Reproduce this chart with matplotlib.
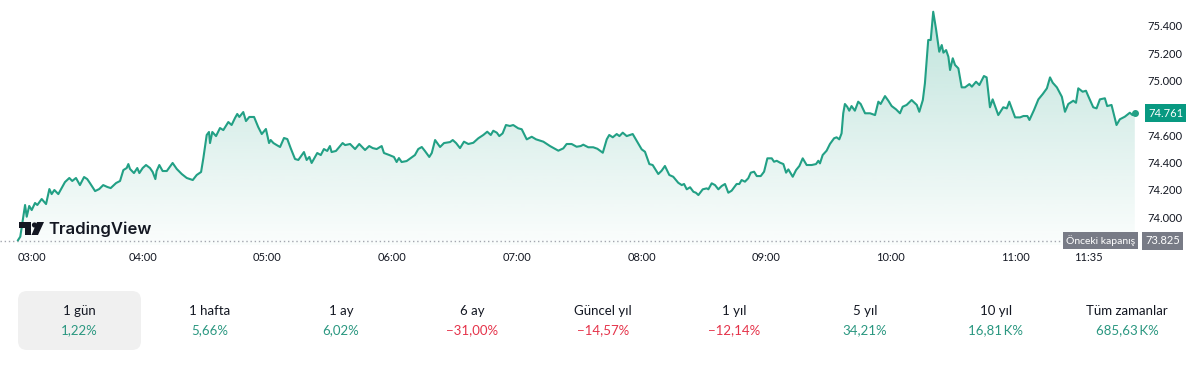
import matplotlib
matplotlib.use('Agg')
import matplotlib.pyplot as plt
import matplotlib.transforms as mtransforms
from matplotlib.patches import Polygon, Circle, FancyBboxPatch
import numpy as np

plt.rcParams['font.family'] = ['Lato', 'DejaVu Sans']

# minutes after 03:00 and price
minutes = [0.0, 1.1, 3.4, 4.2, 5.4, 6.6, 8.2, 9.3, 11.4, 13.5, 15.1, 16.2, 17.5, 19.4, 22.6, 24.7,
           26.1, 27.9, 29.8, 31.8, 33.3, 34.6, 37.1, 39.1, 41.0, 43.0, 44.6, 47.2, 49.1, 50.7, 52.3,
           53.1, 53.9, 55.8, 57.4, 58.4, 60.0, 61.6, 63.5, 64.8, 66.1, 66.7, 68.0, 69.6, 71.6, 74.4,
           76.4, 78.8, 81.2, 84.1, 86.0, 88.1, 89.2, 90.8, 91.9, 92.4, 93.5, 95.3, 97.2, 98.8, 101.2,
           102.8, 104.4, 105.5, 106.5, 108.4, 109.7, 111.3, 113.6, 115.6, 117.3, 119.3, 120.8, 121.6,
           122.9, 124.5, 126.1, 128.0, 129.6, 131.2, 133.3, 134.9, 137.6, 138.9, 140.2, 141.3, 144.0,
           145.7, 147.2, 148.8, 150.1, 150.9, 153.0, 154.6, 156.2, 157.4, 159.8, 162.2, 164.2, 167.0,
           169.0, 170.7, 172.6, 175.0, 176.1, 178.7, 180.9, 182.2, 183.3, 184.6, 187.0, 189.0, 191.0,
           192.6, 194.3, 195.8, 197.9, 199.1, 200.7, 203.1, 205.0, 207.9, 209.2, 210.8, 212.7, 214.6,
           216.7, 219.1, 221.5, 223.9, 225.8, 227.5, 228.7, 230.4, 231.6, 233.2, 234.8, 236.7, 238.3,
           240.7, 242.4, 244.8, 247.2, 249.3, 252.8, 256.0, 260.0, 262.4, 264.0, 266.4, 268.8, 270.8,
           272.0, 274.4, 276.8, 278.8, 281.4, 283.3, 284.5, 286.2, 288.1, 289.4, 291.0, 292.9, 295.8,
           297.7, 300.1, 301.7, 303.8, 305.4, 308.1, 309.7, 311.3, 313.4, 315.3, 317.7, 319.4, 320.5,
           321.8, 323.4, 325.0, 326.2, 327.4, 329.5, 331.4, 332.2, 333.8, 335.4, 337.0, 338.6, 340.2,
           341.8, 343.4, 345.8, 347.1, 348.2, 349.8, 351.4, 352.6, 354.2, 355.5, 357.4, 359.0, 360.6,
           362.7, 363.8, 365.1, 366.7, 368.3, 369.6, 370.7, 372.8, 374.4, 376.0, 377.6, 379.5, 381.9,
           384.0, 385.1, 385.9, 387.2, 389.1, 390.7, 392.7, 393.9, 395.2, 396.3, 397.1, 397.9, 399.0,
           400.0, 401.1, 402.7, 404.3, 405.5, 407.6, 410.0, 412.4, 414.0, 415.1, 417.2, 418.8, 420.4,
           422.5, 424.4, 425.7, 427.6, 430.0, 432.5, 433.7, 435.4, 436.4, 438.0, 439.2, 440.4, 441.7,
           443.3, 444.5, 445.3, 446.6, 447.7, 448.5, 449.8, 450.9, 452.5, 454.1, 455.7, 457.8, 459.0,
           461.0, 462.6, 464.8, 466.1, 467.7, 469.0, 471.7, 474.1, 475.8, 477.0, 479.8, 482.2, 483.8,
           485.7, 486.7, 488.9, 491.0, 493.1, 495.1, 496.6, 497.9, 499.9, 502.3, 503.8, 505.4, 507.8,
           509.1, 510.2, 512.3, 513.9, 515.0, 517.4, 519.0, 520.6, 523.0, 524.1, 526.2, 528.6, 530.2,
           532.6, 535.0, 536.3, 537.4]
prices = [73.830, 73.856, 74.088, 74.002, 74.081, 74.051, 74.103, 74.088, 74.132, 74.095, 74.205,
          74.168, 74.198, 74.168, 74.256, 74.286, 74.264, 74.286, 74.234, 74.293, 74.278, 74.249,
          74.190, 74.205, 74.234, 74.220, 74.212, 74.249, 74.264, 74.344, 74.359, 74.388, 74.352,
          74.322, 74.359, 74.322, 74.359, 74.381, 74.359, 74.330, 74.278, 74.337, 74.381, 74.337,
          74.337, 74.396, 74.352, 74.315, 74.286, 74.271, 74.308, 74.330, 74.432, 74.601, 74.623,
          74.542, 74.623, 74.593, 74.652, 74.637, 74.696, 74.674, 74.725, 74.755, 74.733, 74.769,
          74.703, 74.733, 74.733, 74.659, 74.608, 74.645, 74.542, 74.564, 74.542, 74.527, 74.513,
          74.579, 74.571, 74.505, 74.425, 74.418, 74.476, 74.418, 74.440, 74.396, 74.469, 74.454,
          74.498, 74.484, 74.520, 74.476, 74.484, 74.513, 74.542, 74.527, 74.535, 74.498, 74.535,
          74.491, 74.520, 74.505, 74.498, 74.520, 74.469, 74.454, 74.440, 74.403, 74.432, 74.403,
          74.410, 74.432, 74.454, 74.498, 74.513, 74.484, 74.440, 74.469, 74.564, 74.513, 74.542,
          74.549, 74.564, 74.542, 74.505, 74.552, 74.535, 74.544, 74.577, 74.601, 74.625, 74.601,
          74.632, 74.618, 74.593, 74.613, 74.674, 74.667, 74.674, 74.650, 74.643, 74.569, 74.588,
          74.569, 74.552, 74.520, 74.486, 74.503, 74.535, 74.535, 74.515, 74.520, 74.530, 74.511,
          74.511, 74.500, 74.471, 74.569, 74.601, 74.584, 74.608, 74.593, 74.618, 74.593, 74.608,
          74.559, 74.496, 74.478, 74.388, 74.381, 74.315, 74.339, 74.374, 74.308, 74.295, 74.251,
          74.234, 74.242, 74.203, 74.218, 74.185, 74.178, 74.161, 74.203, 74.210, 74.203, 74.247,
          74.234, 74.203, 74.227, 74.242, 74.178, 74.193, 74.242, 74.242, 74.271, 74.259, 74.284,
          74.325, 74.332, 74.300, 74.300, 74.332, 74.430, 74.430, 74.405, 74.412, 74.398, 74.388,
          74.325, 74.349, 74.295, 74.344, 74.374, 74.430, 74.381, 74.381, 74.388, 74.412, 74.393,
          74.454, 74.486, 74.535, 74.577, 74.584, 74.569, 74.613, 74.760, 74.828, 74.808, 74.779,
          74.813, 74.779, 74.845, 74.828, 74.760, 74.760, 74.747, 74.845, 74.828, 74.886, 74.852,
          74.813, 74.789, 74.760, 74.808, 74.821, 74.857, 74.821, 74.771, 74.857, 74.979, 75.297,
          75.297, 75.504, 75.382, 75.211, 75.260, 75.204, 75.223, 75.174, 75.077, 75.163, 75.114,
          75.089, 74.950, 74.950, 74.974, 74.955, 74.991, 74.967, 75.033, 75.023, 74.804, 74.862,
          74.747, 74.804, 74.796, 74.845, 74.730, 74.730, 74.740, 74.740, 74.711, 74.784, 74.862,
          74.901, 74.943, 75.023, 74.984, 74.950, 74.881, 74.771, 74.828, 74.852, 74.837, 74.943,
          74.918, 74.925, 74.886, 74.804, 74.796, 74.862, 74.870, 74.813, 74.821, 74.674, 74.716,
          74.735, 74.764, 74.747, 74.761]

prev_close = 73.825
tick_minutes = [0, 60, 120, 180, 240, 300, 360, 420, 480, 515]
tick_labels = ['03:00', '04:00', '05:00', '06:00', '07:00', '08:00', '09:00', '10:00', '11:00', '11:35']
y_ticks = [74.0, 74.2, 74.4, 74.6, 74.8, 75.0, 75.2, 75.4]

periods = ['1 gün', '1 hafta', '1 ay', '6 ay', 'Güncel yıl', '1 yıl', '5 yıl', '10 yıl', 'Tüm zamanlar']
changes = ['1,22%', '5,66%', '6,02%', '−31,00%', '−14,57%', '−12,14%', '34,21%', '16,81\u2009K%', '685,63\u2009K%']

GREEN = '#22a085'
UP = '#2a9780'
DOWN = '#e5334a'
TXT = '#131722'

fig = plt.figure(figsize=(12, 3.65), dpi=100)
fig.patch.set_facecolor('white')
# pixel coordinates with origin at top-left
pix = mtransforms.Affine2D().scale(1 / 1200, -1 / 365).translate(0, 1) + fig.transFigure

ax = fig.add_axes([0, 1 - 245 / 365, 1140 / 1200, 245 / 365])
x0, x1 = -8.66, 539.9
y0, y1 = 73.795, 75.590

# gradient area under the line
n = 256
rgba = np.zeros((n, 1, 4))
rgba[..., :3] = matplotlib.colors.to_rgb(GREEN)
rgba[:, 0, 3] = np.linspace(0.30, 0.02, n)
im = ax.imshow(rgba, extent=[x0, x1, y0, y1], aspect='auto', origin='upper', zorder=1)
poly = ax.fill_between(minutes, prices, y0, facecolor='none', edgecolor='none')
im.set_clip_path(poly.get_paths()[0], transform=ax.transData)

ax.plot(minutes, prices, color=GREEN, lw=1.5, zorder=3, solid_joinstyle='round')
ax.plot(minutes[-1], prices[-1], 'o', ms=4, color=GREEN, zorder=4)

ax.axhline(prev_close, xmin=0, xmax=1065 / 1140, color='#a3a6af', lw=1, ls=(0, (1, 2)), zorder=2)

ax.set_xlim(x0, x1)
ax.set_ylim(y0, y1)
for s in ax.spines.values():
    s.set_visible(False)
ax.set_facecolor('none')

ax.yaxis.tick_right()
ax.set_yticks(y_ticks, [f'{v:.3f}' for v in y_ticks])
ax.tick_params(axis='y', length=0, pad=5.5, labelsize=8, labelcolor=TXT)
ax.set_xticks(tick_minutes, tick_labels)
ax.tick_params(axis='x', length=0, pad=5, labelsize=8, labelcolor=TXT)
ax.get_xticklabels()[0].set_ha('left')

ytr = ax.get_yaxis_transform()
ax.text(1135 / 1140, prev_close, 'Önceki kapanış', transform=ytr, ha='right', va='center',
        color='white', fontsize=7.5, zorder=5, clip_on=False,
        bbox=dict(boxstyle='square,pad=0.3', fc='#787b86', ec='none'))
ax.text(1145 / 1140, prev_close, f'{prev_close:.3f}', transform=ytr, ha='left', va='center',
        color='white', fontsize=8, zorder=5, clip_on=False,
        bbox=dict(boxstyle='square,pad=0.3', fc='#787b86', ec='none'))
ax.text(1148 / 1140, prices[-1], f'{prices[-1]:.3f}', transform=ytr, ha='left', va='center',
        color='white', fontsize=8, zorder=5, clip_on=False,
        bbox=dict(boxstyle='square,pad=0.3', fc='#089981', ec='none'))

# TradingView logo
logo = [
    Polygon([(19, 222), (31, 222), (31, 235), (25, 235), (25, 228), (19, 228)], closed=True),
    Circle((34.5, 225), 2.6),
    Polygon([(37, 222), (44, 222), (38, 235), (31.5, 235)], closed=True),
]
for p in logo:
    p.set_transform(pix)
    p.set_facecolor('#131722')
    p.set_edgecolor('none')
    fig.add_artist(p)
fig.text(48, 229, 'TradingView', transform=pix, ha='left', va='center', fontsize=12,
         family='Inter', weight='semibold', color='#131722')

# period performance row
box = FancyBboxPatch((18, 291), 123, 59, boxstyle='round,pad=0,rounding_size=9',
                     transform=pix, fc='#f0f0f0', ec='none')
fig.add_artist(box)
for i, (lab, val) in enumerate(zip(periods, changes)):
    cx = 79 + 131 * i
    fig.text(cx, 311, lab, transform=pix, ha='center', va='center', fontsize=9.5, color=TXT)
    fig.text(cx, 330, val, transform=pix, ha='center', va='center', fontsize=9.5,
             color=DOWN if val.startswith('−') else UP)

fig.savefig('out.png', dpi=100, facecolor='white')
